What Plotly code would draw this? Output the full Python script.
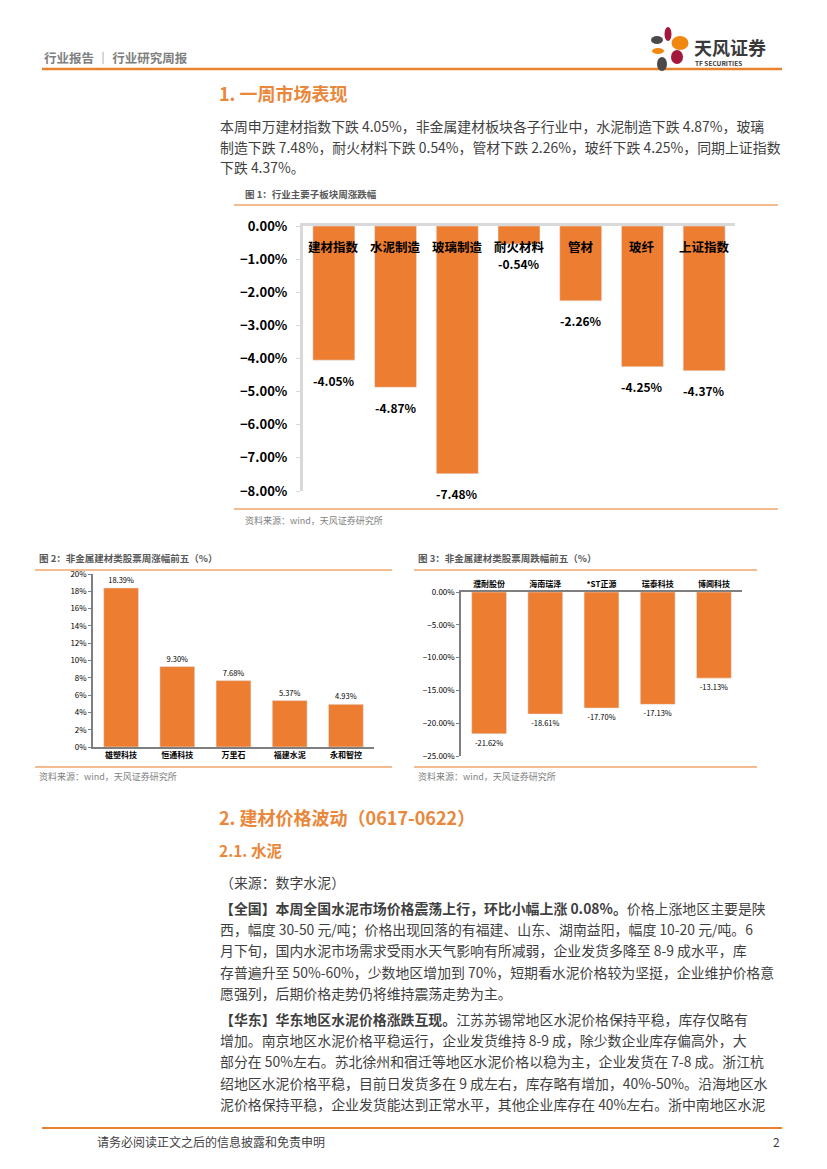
import plotly.graph_objects as go

# ─── data ────────────────────────────────────────────────────────────
sector_names = ["建材指数", "水泥制造", "玻璃制造", "耐火材料", "管材", "玻纤", "上证指数"]
sector_chg = [-4.05, -4.87, -7.48, -0.54, -2.26, -4.25, -4.37]

gainer_names = ["雄塑科技", "恒通科技", "万里石", "福建水泥", "永和智控"]
gainer_chg = [18.39, 9.30, 7.68, 5.37, 4.93]

loser_names = ["濮耐股份", "海南瑞泽", "*ST正源", "瑞泰科技", "博闻科技"]
loser_chg = [-21.62, -18.61, -17.70, -17.13, -13.13]

sec1_lines = [
    "本周申万建材指数下跌 4.05%，非金属建材板块各子行业中，水泥制造下跌 4.87%，玻璃",
    "制造下跌 7.48%，耐火材料下跌 0.54%，管材下跌 2.26%，玻纤下跌 4.25%，同期上证指数",
    "下跌 4.37%。",
]
cement_lines = [
    "<b>【全国】本周全国水泥市场价格震荡上行，环比小幅上涨 0.08%。</b>价格上涨地区主要是陕",
    "西，幅度 30-50 元/吨；价格出现回落的有福建、山东、湖南益阳，幅度 10-20 元/吨。6",
    "月下旬，国内水泥市场需求受雨水天气影响有所减弱，企业发货多降至 8-9 成水平，库",
    "存普遍升至 50%-60%，少数地区增加到 70%，短期看水泥价格较为坚挺，企业维护价格意",
    "愿强列，后期价格走势仍将维持震荡走势为主。",
]
east_lines = [
    "<b>【华东】华东地区水泥价格涨跌互现。</b>江苏苏锡常地区水泥价格保持平稳，库存仅略有",
    "增加。南京地区水泥价格平稳运行，企业发货维持 8-9 成，除少数企业库存偏高外，大",
    "部分在 50%左右。苏北徐州和宿迁等地区水泥价格以稳为主，企业发货在 7-8 成。浙江杭",
    "绍地区水泥价格平稳，目前日发货多在 9 成左右，库存略有增加，40%-50%。沿海地区水",
    "泥价格保持平稳，企业发货能达到正常水平，其他企业库存在 40%左右。浙中南地区水泥",
]

W, H = 827, 1169
OFF = 8  # the page body adds an 8px margin around the plot div
FONT = "Noto Sans CJK SC"
BAR = "#ED7D31"
ORANGE = "#E9873A"
RULE = "#F2A66A"
TXT = "#3F3F3F"
GREY = "#7F7F7F"


def px(x):
    return (x - OFF) / W


def py(y):
    return 1 - (y - OFF) / H


fig = go.Figure()

# figure 1: sector moves
fig.add_trace(go.Bar(
    x=sector_names, y=sector_chg, marker_color=BAR, width=0.68,
    xaxis="x", yaxis="y", hoverinfo="x+y",
))
# figure 2: top gainers
fig.add_trace(go.Bar(
    x=gainer_names, y=gainer_chg, marker_color=BAR, width=0.62,
    text=gainer_chg, texttemplate="%{text:.2f}%", textposition="outside",
    textfont=dict(size=7.5, color="#000000", family=FONT),
    constraintext="none", cliponaxis=False,
    xaxis="x2", yaxis="y2",
))
# figure 3: top losers
fig.add_trace(go.Bar(
    x=loser_names, y=loser_chg, marker_color=BAR, width=0.62,
    text=loser_chg, texttemplate="%{text:.2f}%", textposition="outside",
    textfont=dict(size=7.5, color="#000000", family=FONT),
    constraintext="none", cliponaxis=False,
    xaxis="x3", yaxis="y3",
))

ann = []

# category names inside fig 1 and value labels under the bars
for name, v in zip(sector_names, sector_chg):
    ann.append(dict(x=name, y=0, xref="x", yref="y", yshift=-20, text=name,
                    showarrow=False, font=dict(size=12.5, color="#000000", weight="bold")))
    ann.append(dict(x=name, y=v, xref="x", yref="y", yshift=-20, text=f"{v:.2f}%",
                    showarrow=False, font=dict(size=12, color="#000000", weight="bold")))


def text(x, y, s, size=13.5, color=TXT, weight="normal", anchor="left"):
    ann.append(dict(x=px(x), y=py(y), xref="paper", yref="paper", text=s,
                    xanchor=anchor, yanchor="middle", showarrow=False,
                    font=dict(size=size, color=color, weight=weight, family=FONT)))


# header
text(42, 57, "行业报告 ｜ 行业研究周报", size=12.5, color=GREY, weight="bold")
text(692, 47, "天风证券", size=18, color="#3A3A3A", weight="bold")
text(693, 63, "TF SECURITIES", size=6.5, color="#3A3A3A", weight="bold")

# section 1
text(217, 93, "1. 一周市场表现", size=18, color=ORANGE, weight="bold")
for i, s in enumerate(sec1_lines):
    text(218, 126 + i * 20.5, s, size=13.9)
text(243, 194, "图 1：行业主要子板块周涨跌幅", size=9.5, color="#595959", weight="bold")
text(243, 520, "资料来源：wind，天风证券研究所", size=9, color=GREY)

# figures 2 and 3 titles / sources
text(37, 558, "图 2：非金属建材类股票周涨幅前五（%）", size=9.5, color="#595959", weight="bold")
text(37, 776, "资料来源：wind，天风证券研究所", size=9, color=GREY)
text(416, 558, "图 3：非金属建材类股票周跌幅前五（%）", size=9.5, color="#595959", weight="bold")
text(416, 776, "资料来源：wind，天风证券研究所", size=9, color=GREY)

# section 2
text(217, 817, "2. 建材价格波动（0617-0622）", size=18, color=ORANGE, weight="bold")
text(217, 850, "2.1. 水泥", size=15.5, color=ORANGE, weight="bold")
text(218, 882, "（来源：数字水泥）", size=13.9)
for i, s in enumerate(cement_lines):
    text(218, 908 + i * 21.2, s, size=13.9)
for i, s in enumerate(east_lines):
    text(218, 1019 + i * 21.2, s, size=13.9)

# footer
text(95, 1141, "请务必阅读正文之后的信息披露和免责申明", size=12, color=TXT)
text(782, 1141, "2", size=12, color=TXT, anchor="right")

shapes = []


def rule(x0, x1, y, color=RULE, w=1.5):
    shapes.append(dict(type="line", xref="paper", yref="paper",
                       x0=px(x0), x1=px(x1), y0=py(y), y1=py(y),
                       line=dict(color=color, width=w)))


rule(42, 782, 69, color="#E8822F", w=2.5)
rule(234, 778, 205)
rule(234, 778, 509)
rule(35, 392, 570)
rule(35, 392, 767)
rule(414, 757, 570)
rule(414, 757, 767)
rule(42, 782, 1128, color="#E8822F", w=2)

# logo petals
petals = [
    (657, 40, 6, 4, "#4A4A4A"),
    (668, 34, 3.5, 7, "#A3173A"),
    (680, 43, 8.5, 7, "#F0870F"),
    (658, 51, 6, 3, "#F0870F"),
    (677, 57, 6, 7, "#A3173A"),
    (662, 64, 5, 7, "#4A4A4A"),
]
for cx, cy, rx, ry, c in petals:
    shapes.append(dict(type="circle", xref="paper", yref="paper",
                       x0=px(cx - rx), x1=px(cx + rx), y0=py(cy + ry), y1=py(cy - ry),
                       fillcolor=c, line=dict(width=0)))

tick_small = dict(size=8, color="#000000", family=FONT)

fig.update_layout(
    width=W, height=H,
    margin=dict(l=0, r=0, t=0, b=0, pad=0, autoexpand=False),
    paper_bgcolor="white", plot_bgcolor="white",
    showlegend=False,
    font=dict(family=FONT, color=TXT),
    annotations=ann, shapes=shapes,
    # figure 1 axes
    xaxis=dict(domain=[px(303), px(735)], anchor="y", side="top",
               showticklabels=False, ticks="", showgrid=False, automargin=False,
               showline=True, linecolor="#D9D9D9", linewidth=3),
    yaxis=dict(domain=[py(491), py(226)], anchor="x", range=[-8, 0],
               dtick=1, tickformat=".2f", ticksuffix="%", automargin=False,
               showgrid=False, zeroline=False,
               showline=True, linecolor="#D9D9D9", linewidth=3,
               ticks="outside", ticklen=4, tickcolor="#D9D9D9",
               ticklabelstandoff=6,
               tickfont=dict(size=13, color="#000000", family=FONT, weight="bold")),
    # figure 2 axes
    xaxis2=dict(domain=[px(93), px(374)], anchor="y2", automargin=False,
                showgrid=False, ticks="", showline=True,
                linecolor="#7F7F7F", linewidth=1.5,
                tickfont=dict(size=8, color="#000000", family=FONT, weight="bold")),
    yaxis2=dict(domain=[py(747), py(574)], anchor="x2", range=[0, 20],
                dtick=2, ticksuffix="%", showgrid=False, zeroline=False,
                automargin=False,
                showline=True, linecolor="#7F7F7F", linewidth=1.5,
                ticks="outside", ticklen=3, tickcolor="#7F7F7F",
                tickfont=tick_small),
    # figure 3 axes
    xaxis3=dict(domain=[px(461), px(742)], anchor="y3", side="top",
                showgrid=False, ticks="", showline=True, automargin=False,
                linecolor="#7F7F7F", linewidth=1.5,
                tickfont=dict(size=8, color="#000000", family=FONT, weight="bold")),
    yaxis3=dict(domain=[py(756), py(592)], anchor="x3", range=[-25, 0],
                dtick=5, tickformat=".2f", ticksuffix="%",
                showgrid=False, zeroline=False, automargin=False,
                showline=True, linecolor="#7F7F7F", linewidth=1.5,
                ticks="outside", ticklen=3, tickcolor="#7F7F7F",
                tickfont=tick_small),
)

fig.write_html("out.html")
